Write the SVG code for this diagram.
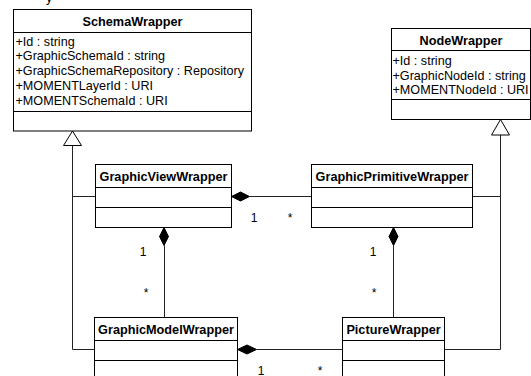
<svg xmlns="http://www.w3.org/2000/svg" width="531" height="376" viewBox="0 0 531 376">
<style>
.box{fill:#fff;stroke:#000;stroke-width:1}
.sep{stroke:#000;stroke-width:1}
.title{font-family:"Liberation Sans",Arial,sans-serif;font-size:12.7px;font-weight:bold;text-anchor:middle;fill:#000}
.attr{font-family:"Liberation Sans",Arial,sans-serif;font-size:12.6px;fill:#000}
.lbl{font-family:"Liberation Sans",Arial,sans-serif;font-size:12px;fill:#000;text-anchor:middle}
.ln{fill:none;stroke:#222;stroke-width:1}
.tri{fill:#fff;stroke:#000;stroke-width:1}
.dia{fill:#000;stroke:#000;stroke-width:1}
</style>
<rect width="531" height="376" fill="#fff"/>
<text class="attr" x="46" y="2" font-size="13">y</text>
<g id="connectors">
<path class="ln" d="M72.5 145.5 V349.5 H94.5 M72.5 196.5 H95.5"/>
<polygon class="tri" points="72.5,131 63.5,145.5 81.5,145.5"/>
<path class="ln" d="M500.5 135 V349.5 H444.5 M500.5 196.5 H472.5"/>
<polygon class="tri" points="500.5,119.5 491.5,135 509.5,135"/>
<path class="ln" d="M249.5 196.5 H311.5"/>
<polygon class="dia" points="231.5,196.5 240.5,192 249.5,196.5 240.5,201"/>
<path class="ln" d="M164.5 245.5 V317.5"/>
<polygon class="dia" points="164,227.5 168.5,236.5 164,245.5 159.5,236.5"/>
<path class="ln" d="M393.5 245.5 V317.5"/>
<polygon class="dia" points="393.5,227.5 398,236.5 393.5,245.5 389,236.5"/>
<path class="ln" d="M256.5 349.5 H342.5"/>
<polygon class="dia" points="237.5,349.5 247,345 256.5,349.5 247,354"/>
<text class="lbl" x="254" y="222">1</text>
<text class="lbl" x="290" y="221.5">*</text>
<text class="lbl" x="143" y="256">1</text>
<text class="lbl" x="146" y="296.5">*</text>
<text class="lbl" x="373" y="256">1</text>
<text class="lbl" x="374" y="296.5">*</text>
<text class="lbl" x="261" y="374.5">1</text>
<text class="lbl" x="320" y="374.5">*</text>
</g>
<g id="SchemaWrapper">
<rect class="box" x="13.5" y="9.5" width="238" height="121.5"/>
<line class="sep" x1="13.5" y1="32.5" x2="251.5" y2="32.5"/>
<line class="sep" x1="13.5" y1="111.5" x2="251.5" y2="111.5"/>
<text class="title" x="132.5" y="25.5">SchemaWrapper</text>
<text class="attr" x="15.5" y="45.5">+Id : string</text>
<text class="attr" x="15.5" y="60.3">+GraphicSchemaId : string</text>
<text class="attr" x="15.5" y="75.3">+GraphicSchemaRepository : Repository</text>
<text class="attr" x="15.5" y="90.3">+MOMENTLayerId : URI</text>
<text class="attr" x="15.5" y="105">+MOMENTSchemaId : URI</text>
</g>
<g id="NodeWrapper">
<rect class="box" x="391.5" y="28.5" width="139" height="91"/>
<line class="sep" x1="391.5" y1="50.5" x2="530.5" y2="50.5"/>
<line class="sep" x1="391.5" y1="99.5" x2="530.5" y2="99.5"/>
<text class="title" x="461" y="44.5">NodeWrapper</text>
<text class="attr" x="392.5" y="65">+Id : string</text>
<text class="attr" x="392.5" y="79.5">+GraphicNodeId : string</text>
<text class="attr" x="392.5" y="94">+MOMENTNodeId : URI</text>
</g>
<g id="GraphicViewWrapper">
<rect class="box" x="95.5" y="164.5" width="136" height="63"/>
<line class="sep" x1="95.5" y1="187.5" x2="231.5" y2="187.5"/>
<line class="sep" x1="95.5" y1="207.5" x2="231.5" y2="207.5"/>
<text class="title" x="163.5" y="180.5">GraphicViewWrapper</text>
</g>
<g id="GraphicPrimitiveWrapper">
<rect class="box" x="311.5" y="164.5" width="161" height="63"/>
<line class="sep" x1="311.5" y1="187.5" x2="472.5" y2="187.5"/>
<line class="sep" x1="311.5" y1="207.5" x2="472.5" y2="207.5"/>
<text class="title" x="392" y="180.5">GraphicPrimitiveWrapper</text>
</g>
<g id="GraphicModelWrapper">
<rect class="box" x="94.5" y="317.5" width="143" height="70"/>
<line class="sep" x1="94.5" y1="340.5" x2="237.5" y2="340.5"/>
<line class="sep" x1="94.5" y1="360.5" x2="237.5" y2="360.5"/>
<text class="title" x="166" y="333.5">GraphicModelWrapper</text>
</g>
<g id="PictureWrapper">
<rect class="box" x="342.5" y="317.5" width="102" height="70"/>
<line class="sep" x1="342.5" y1="340.5" x2="444.5" y2="340.5"/>
<line class="sep" x1="342.5" y1="360.5" x2="444.5" y2="360.5"/>
<text class="title" x="393.5" y="333.5">PictureWrapper</text>
</g>
</svg>
